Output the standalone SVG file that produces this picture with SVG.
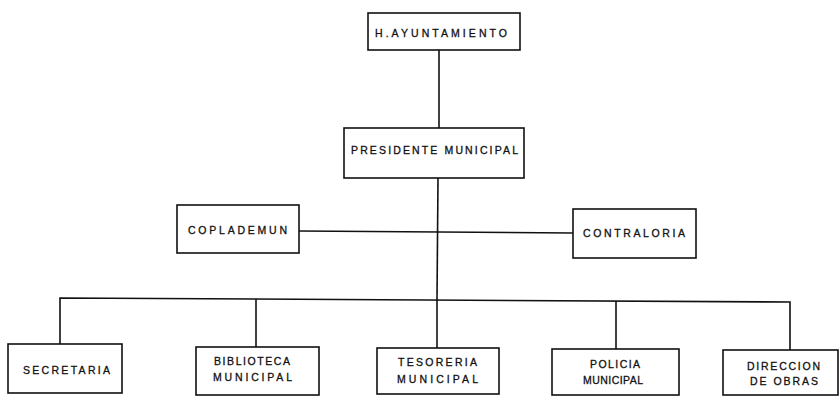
<svg xmlns="http://www.w3.org/2000/svg" width="839" height="396" viewBox="0 0 839 396">
<style>
.box{fill:#fff;stroke:#111;stroke-width:1.6}
.ln{fill:none;stroke:#111;stroke-width:1.6}
text{font-family:"Liberation Sans",Arial,sans-serif;font-size:10.5px;fill:#111;stroke:#111;stroke-width:0.3;text-anchor:middle}
</style>
<rect width="839" height="396" fill="#fff"/>
<g id="connectors">
<path class="ln" d="M439 50V128"/>
<path class="ln" d="M438 178L437 300"/>
<path class="ln" d="M299 231L573 233"/>
<path class="ln" d="M60 344V298L790 302V350"/>
<path class="ln" d="M256 299V347"/>
<path class="ln" d="M437 300V348"/>
<path class="ln" d="M616 301V349"/>
</g>
<g id="ayuntamiento">
<rect class="box" x="368" y="13" width="152" height="37"/>
<text x="441" y="37" textLength="132" lengthAdjust="spacing">H.AYUNTAMIENTO</text>
</g>
<g id="presidente">
<rect class="box" x="344" y="128" width="180" height="50"/>
<text x="434.5" y="154" textLength="167" lengthAdjust="spacing">PRESIDENTE MUNICIPAL</text>
</g>
<g id="coplademun">
<rect class="box" x="177" y="205" width="122" height="48"/>
<text x="237.5" y="234" textLength="99" lengthAdjust="spacing">COPLADEMUN</text>
</g>
<g id="contraloria">
<rect class="box" x="573" y="209" width="123" height="49"/>
<text x="634" y="237" textLength="102" lengthAdjust="spacing">CONTRALORIA</text>
</g>
<g id="secretaria">
<rect class="box" x="8" y="344" width="114" height="49"/>
<text x="66.5" y="374" textLength="87" lengthAdjust="spacing">SECRETARIA</text>
</g>
<g id="biblioteca">
<rect class="box" x="196" y="347" width="123" height="48"/>
<text x="252" y="365" textLength="76" lengthAdjust="spacing">BIBLIOTECA</text>
<text x="252.5" y="381" textLength="79" lengthAdjust="spacing">MUNICIPAL</text>
</g>
<g id="tesoreria">
<rect class="box" x="377" y="348" width="122" height="46"/>
<text x="437.5" y="366" textLength="79" lengthAdjust="spacing">TESORERIA</text>
<text x="437.5" y="383" textLength="81" lengthAdjust="spacing">MUNICIPAL</text>
</g>
<g id="policia">
<rect class="box" x="552" y="349" width="127" height="46"/>
<text x="615" y="368" textLength="50" lengthAdjust="spacing">POLICIA</text>
<text x="613" y="384" textLength="60" lengthAdjust="spacing">MUNICIPAL</text>
</g>
<g id="direccion">
<rect class="box" x="723" y="350" width="115" height="45"/>
<text x="783.5" y="370" textLength="73" lengthAdjust="spacing">DIRECCION</text>
<text x="784" y="385" textLength="68" lengthAdjust="spacing">DE OBRAS</text>
</g>
</svg>
